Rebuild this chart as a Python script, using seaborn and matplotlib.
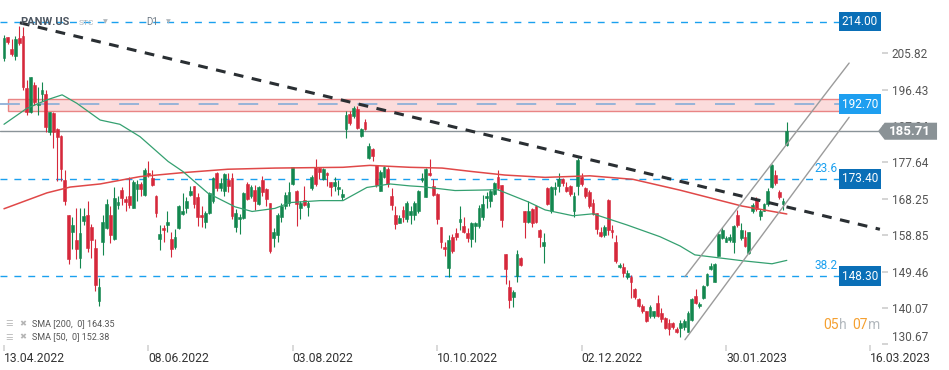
import matplotlib
matplotlib.use("Agg")
import pandas as pd
import matplotlib.pyplot as plt
import seaborn as sns
from matplotlib.patches import Rectangle, Polygon

sns.set_theme(style="white")
plt.rcParams['font.family'] = ['Roboto', 'DejaVu Sans']

# daily OHLC (PANW.US, D1)
opens = [204.7, 209.9, 207.0, 205.0, 209.7, 210.3, 196.8, 190.6, 197.7, 192.5,
         195.3, 195.3, 185.6, 190.4, 186.3, 184.5, 173.1, 164.1, 159.6, 157.7,
         153.1, 162.6, 164.0, 160.9, 155.5, 141.9, 157.2, 160.8, 164.0, 158.0,
         166.7, 170.6, 168.2, 169.1, 166.0, 170.7, 172.1, 169.3, 175.0, 173.6,
         169.0, 157.8, 160.7, 161.6, 157.8, 155.8, 160.7, 164.4, 165.8, 169.3,
         171.6, 168.7, 164.1, 162.4, 164.7, 167.6, 175.0, 171.0, 170.4, 173.0,
         173.6, 160.9, 163.0, 163.3, 172.1, 169.0, 170.5, 167.0, 173.1, 170.7,
         167.1, 158.1, 158.9, 163.7, 166.3, 167.1, 172.1, 170.3, 165.8, 168.0,
         166.1, 171.0, 176.6, 176.2, 173.3, 175.0, 172.5, 171.6, 170.7, 168.7,
         186.2, 190.2, 189.7, 191.4, 184.5, 188.2, 178.7, 181.1, 177.0, 170.4,
         173.8, 175.9, 169.0, 164.1, 162.0, 165.4, 163.0, 164.1, 164.1, 165.0,
         173.0, 168.8, 175.0, 171.6, 169.5, 160.9, 155.8, 150.4, 158.4, 159.4,
         162.4, 161.3, 159.4, 157.8, 161.3, 161.3, 163.7, 168.4, 167.6, 169.5,
         173.8, 171.9, 154.0, 145.4, 143.0, 148.4, 152.9, 165.0, 162.4, 165.6,
         166.4, 160.1, 156.1, 171.0, 165.0, 170.7, 171.6, 173.3, 171.3, 171.6,
         165.0, 171.6, 173.8, 171.0, 170.1, 167.3, 164.7, 159.8, 158.9, 168.0,
         160.2, 157.2, 150.6, 150.6, 148.2, 148.2, 144.9, 142.3, 140.6, 139.2,
         138.0, 138.1, 141.5, 138.9, 137.5, 136.2, 136.3, 134.6, 134.9, 135.1,
         134.0, 137.0, 143.2, 140.5, 142.6, 146.0, 150.1, 146.9, 153.5, 158.1,
         157.2, 157.7, 157.0, 164.1, 158.1, 158.5, 154.2, 165.0, 168.2, 163.9,
         165.2, 166.9, 171.3, 174.4, 170.1, 167.0, 182.2]
highs = [210.6, 210.1, 209.5, 210.4, 212.9, 212.6, 199.0, 199.8, 198.4, 197.0,
         198.4, 196.4, 190.6, 190.6, 186.5, 184.8, 175.7, 164.1, 163.7, 166.0,
         166.0, 166.0, 167.7, 161.7, 157.9, 147.8, 164.0, 168.3, 166.3, 171.2,
         169.1, 171.4, 169.1, 174.0, 173.1, 173.1, 172.7, 176.2, 178.1, 175.7,
         169.3, 161.5, 161.5, 165.0, 159.6, 160.4, 166.7, 169.7, 168.8, 171.6,
         171.6, 169.7, 166.3, 165.0, 170.1, 174.0, 175.3, 173.6, 174.9, 174.9,
         175.0, 165.6, 164.4, 170.1, 172.5, 171.9, 171.9, 171.6, 174.2, 171.0,
         167.3, 160.7, 164.5, 167.1, 169.9, 172.5, 176.6, 170.5, 167.6, 171.6,
         167.8, 174.4, 178.5, 176.4, 176.2, 175.3, 172.7, 174.0, 173.0, 170.7,
         190.8, 190.8, 192.2, 192.2, 186.5, 188.8, 182.6, 181.3, 177.0, 175.6,
         176.8, 176.4, 171.0, 166.4, 164.1, 166.3, 167.6, 166.4, 167.6, 170.5,
         174.9, 176.2, 178.5, 173.3, 169.7, 161.1, 157.2, 158.9, 159.2, 160.7,
         166.4, 163.5, 160.7, 162.4, 162.4, 166.7, 169.3, 170.1, 170.7, 172.7,
         175.7, 171.9, 154.0, 147.2, 144.7, 155.1, 153.2, 165.2, 167.6, 165.8,
         166.7, 160.4, 159.4, 171.4, 171.6, 172.7, 175.0, 173.6, 172.5, 171.9,
         170.1, 178.7, 175.0, 171.4, 170.5, 168.2, 164.7, 160.9, 161.5, 168.2,
         161.5, 159.0, 151.6, 151.8, 149.8, 148.6, 145.2, 142.6, 141.1, 139.4,
         140.9, 139.4, 143.5, 140.0, 137.7, 137.2, 136.6, 135.3, 137.0, 137.2,
         139.2, 142.6, 144.9, 141.7, 146.0, 149.2, 151.8, 151.8, 159.6, 160.9,
         158.7, 159.2, 161.5, 165.4, 162.1, 160.2, 159.8, 167.1, 168.7, 165.6,
         167.3, 171.0, 177.3, 175.7, 170.5, 168.4, 188.2]
lows = [203.9, 208.2, 205.2, 204.1, 208.0, 196.4, 189.8, 190.3, 192.5, 189.8,
        193.4, 185.4, 184.8, 181.5, 172.9, 172.9, 166.7, 151.4, 155.3, 152.8,
        150.3, 161.5, 154.6, 153.1, 144.5, 140.7, 153.8, 160.5, 156.8, 157.6,
        165.6, 166.7, 165.0, 166.0, 166.0, 167.6, 168.9, 169.0, 173.8, 171.6,
        163.5, 155.1, 157.0, 159.6, 153.2, 155.3, 160.4, 164.1, 164.5, 169.0,
        165.8, 161.3, 161.1, 160.7, 164.4, 167.1, 170.4, 170.4, 169.0, 170.1,
        163.0, 159.8, 159.2, 163.0, 168.0, 168.4, 165.4, 166.7, 169.0, 166.4,
        154.2, 155.8, 157.2, 162.4, 165.6, 166.4, 171.9, 161.3, 163.0, 166.4,
        163.9, 170.5, 171.6, 173.3, 173.1, 171.6, 168.9, 170.4, 169.3, 168.0,
        183.9, 187.3, 189.1, 186.2, 184.3, 185.9, 178.5, 177.9, 171.4, 170.4,
        173.6, 171.4, 165.4, 160.4, 162.0, 162.4, 162.4, 161.8, 162.8, 164.7,
        172.5, 168.7, 174.2, 169.0, 161.8, 155.5, 153.4, 148.0, 154.4, 157.7,
        160.1, 159.4, 157.0, 155.9, 157.0, 160.7, 162.8, 165.8, 166.1, 169.3,
        170.5, 161.1, 146.3, 140.0, 140.3, 146.9, 151.0, 158.1, 162.0, 161.1,
        162.0, 155.9, 151.6, 166.7, 164.7, 169.3, 169.9, 171.6, 169.9, 169.0,
        163.7, 169.3, 171.6, 168.4, 165.8, 164.1, 159.2, 158.4, 158.4, 159.0,
        158.1, 151.8, 150.4, 148.2, 147.5, 142.6, 142.4, 140.3, 138.7, 136.6,
        137.5, 137.5, 137.7, 136.6, 134.6, 133.1, 134.6, 133.6, 132.7, 134.4,
        133.8, 136.8, 141.1, 140.0, 142.4, 145.8, 149.8, 146.7, 153.5, 157.8,
        157.0, 157.2, 154.2, 161.1, 157.7, 155.8, 154.0, 164.7, 165.2, 162.7,
        165.0, 166.4, 171.0, 171.9, 168.2, 165.4, 181.9]
closes = [209.7, 208.7, 205.6, 209.5, 208.4, 197.0, 190.6, 199.8, 193.2, 192.8,
          196.4, 186.7, 190.6, 185.4, 184.1, 176.0, 167.7, 152.8, 161.5, 155.3,
          159.4, 163.9, 155.7, 157.6, 146.1, 145.4, 162.4, 166.9, 158.8, 168.4,
          167.4, 168.6, 167.4, 166.7, 172.7, 172.0, 170.7, 175.7, 174.4, 171.9,
          164.7, 159.2, 160.1, 162.3, 155.3, 158.4, 166.4, 165.0, 167.8, 170.3,
          166.9, 163.7, 163.5, 164.5, 169.7, 173.6, 171.0, 172.3, 174.6, 171.6,
          163.9, 164.7, 163.6, 169.7, 168.2, 171.4, 167.8, 171.4, 170.1, 168.2,
          154.7, 159.6, 164.1, 166.3, 169.3, 170.1, 176.4, 167.0, 167.3, 166.7,
          167.1, 174.0, 172.1, 175.3, 175.9, 174.4, 171.3, 172.7, 171.4, 169.5,
          189.9, 187.9, 191.6, 186.5, 186.2, 186.2, 181.9, 179.2, 171.9, 175.3,
          176.4, 172.1, 166.7, 161.8, 163.3, 163.7, 167.3, 165.0, 167.3, 170.3,
          173.6, 175.9, 174.4, 169.3, 163.0, 157.2, 155.3, 157.7, 154.9, 158.4,
          163.0, 159.6, 158.1, 162.1, 161.9, 165.8, 166.9, 169.0, 170.4, 172.3,
          171.0, 162.7, 150.1, 142.2, 144.3, 154.0, 151.2, 162.4, 165.2, 162.1,
          162.4, 158.4, 157.0, 167.0, 171.4, 171.4, 173.3, 172.3, 170.4, 169.5,
          169.0, 178.3, 172.1, 169.0, 166.3, 164.4, 160.4, 158.7, 160.9, 160.1,
          159.6, 152.3, 151.2, 149.2, 149.2, 146.7, 142.9, 140.6, 139.2, 136.8,
          140.3, 139.2, 137.9, 137.2, 134.9, 134.6, 135.1, 134.0, 136.3, 136.8,
          138.9, 142.4, 141.5, 141.1, 145.8, 148.9, 151.0, 151.5, 159.2, 160.1,
          158.1, 158.5, 161.3, 161.5, 160.1, 156.1, 159.6, 166.7, 165.6, 165.0,
          167.0, 170.4, 177.0, 172.3, 168.8, 167.8, 185.71]

# moving averages, points (bar index, value)
sma200_idx = [0, 11.3, 17.4, 25.3, 35.8, 46.8, 58.9, 71.3, 89.2, 96.3, 106.8,
              115.3, 123.2, 131.8, 142.4, 154.2, 165.5, 177.9, 194.2, 206]
sma200_val = [165.7, 169.8, 171.3, 172.1, 174.0, 175.0, 175.9, 176.2, 176.4, 176.9,
              176.4, 176.2, 175.3, 174.4, 173.8, 174.2, 173.3, 170.5, 166.4, 164.35]
sma50_idx = [0, 6, 11.3, 15.3, 19.2, 25.3, 30.5, 35.8, 43.2, 47.1, 53.7, 60.8,
             65.3, 71.3, 75.3, 83.2, 89.2, 95.5, 101.6, 106.8, 110, 118.7, 130,
             137.9, 142.4, 149.7, 155, 164, 172.6, 177.9, 181.8, 194.2, 202.1, 206]
sma50_val = [187.5, 191.6, 193.8, 195.1, 192.9, 188.6, 187.5, 184.3, 177.9, 175.3,
             169.7, 166.2, 165.0, 165.8, 167.3, 167.8, 167.8, 171.2, 172.1, 171.6,
             171.4, 170.4, 170.6, 167.5, 165.4, 163.9, 164.4, 161.5, 158.5, 156.1,
             153.8, 152.3, 151.5, 152.38]

# drawn objects
trend_idx = [4.2, 230.5]
trend_val = [213.7, 160.4]
chan_idx = [179.2, 222.4]
chan_upper = [148.2, 203.3]
chan_lower = [131.9, 189.3]

fib_levels = [214.00, 173.40, 148.30]
fib_tags = ["", "23.6", "38.2"]
zone_low, zone_high, zone_mid = 190.8, 193.95, 192.70
last_price = 185.71

ytick_vals = [205.82, 196.43, 187.04, 177.64, 168.25, 158.85, 149.46, 140.07, 130.67]
date_idx = [0, 38, 76, 114, 152, 190, 228]
date_labels = ["13.04.2022", "08.06.2022", "03.08.2022", "10.10.2022",
               "02.12.2022", "30.01.2023", "16.03.2023"]

df = pd.DataFrame({"open": opens, "high": highs, "low": lows, "close": closes})
df["idx"] = range(len(df))
df["up"] = df["close"] >= df["open"]

GREEN = "#13874f"
RED = "#d6283b"
BLUE = "#1aa0ef"
DARKBLUE = "#0a6fb7"

fig = plt.figure(figsize=(9.49, 3.70), dpi=100)
ax = fig.add_axes([0, 25 / 370, 882 / 949, 345 / 370])
ax.set_xlim(-1.05, 231.05)
ax.set_ylim(130.54, 219.575)
for s in ax.spines.values():
    s.set_visible(False)

# resistance zone
ax.add_patch(Rectangle((1.05, zone_low), 219.3, zone_high - zone_low,
                       facecolor="#fbdcdc", edgecolor="#e98585", lw=1, zorder=1))
ax.axhline(zone_mid, xmin=0, xmax=0.951, color="#8fb0d8", lw=1.3,
           dashes=(11, 11), zorder=1.5)

# fibo levels
for lv in fib_levels:
    ax.axhline(lv, xmin=0, xmax=0.951, color=BLUE, lw=1.0, dashes=(5, 5), zorder=1.5)
ax.axhline(last_price, xmin=0, xmax=0.996, color="#8a9398", lw=1.0, zorder=1.5)

# candles
for up, grp in df.groupby("up"):
    col = GREEN if up else RED
    ax.vlines(grp["idx"], grp["low"], grp["high"], color=col, lw=0.8, zorder=3)
    body = (grp["close"] - grp["open"]).abs().clip(lower=0.25)
    bottom = grp[["open", "close"]].min(axis=1)
    ax.bar(grp["idx"], body, bottom=bottom, width=0.75, color=col,
           edgecolor=col, lw=0.4, zorder=3.5)

# moving averages
sns.lineplot(x=sma200_idx, y=sma200_val, ax=ax, color="#e04848", lw=1.1, zorder=4)
sns.lineplot(x=sma50_idx, y=sma50_val, ax=ax, color="#34a070", lw=0.9, zorder=4)

# trend line + channel
ax.plot(trend_idx, trend_val, color="#2a2f33", lw=2.2, dashes=(3.2, 2.8), zorder=5)
ax.plot(chan_idx, chan_upper, color="#9b9b9b", lw=1.0, zorder=5)
ax.plot(chan_idx, chan_lower, color="#9b9b9b", lw=1.0, zorder=5)

# y axis on the right
ax.yaxis.tick_right()
ax.set_yticks(ytick_vals)
ax.set_yticklabels([f"{v:.2f}" for v in ytick_vals], color="#555555", fontsize=8.5)
ax.tick_params(axis="y", length=4, color="#cfcfcf", pad=3, right=True, left=False)
ax.get_yticklabels()[-1].set_va("bottom")

ax.set_xticks(date_idx)
ax.set_xticklabels(date_labels, ha="left", color="#333333", fontsize=8.7)
ax.tick_params(axis="x", length=4, color="#d5d5d5", pad=1, bottom=True)

# level labels on the right
ytr = ax.get_yaxis_transform()
for lv, tag in zip(fib_levels, fib_tags):
    ax.text(0.975, lv, f"{lv:.2f}", transform=ytr, ha="center", va="center",
            color="white", fontsize=8.5, zorder=8,
            bbox=dict(boxstyle="square,pad=0.28", fc=DARKBLUE, ec="none"))
    if tag:
        ax.text(0.937, lv + 1.0, tag, transform=ytr, ha="center", va="bottom",
                color=BLUE, fontsize=8.5, zorder=8)
ax.text(0.975, zone_mid, f"{zone_mid:.2f}", transform=ytr, ha="center", va="center",
        color="white", fontsize=8.5, zorder=8,
        bbox=dict(boxstyle="square,pad=0.28", fc="#1e9ff0", ec="none"))

# last price tag with arrow
h = 2.2
ax.add_patch(Polygon([(0.9955, last_price), (1.003, last_price + h), (1.0624, last_price + h),
                      (1.0624, last_price - h), (1.003, last_price - h)],
                     closed=True, transform=ytr, fc="#8a9296", ec="none",
                     clip_on=False, zorder=9))
ax.text(1.032, last_price, f"{last_price:.2f}", transform=ytr, ha="center", va="center",
        color="white", fontsize=9.5, fontweight="bold", zorder=10, clip_on=False)

# header
ax.text(20 / 882, 0.935, "PANW.US", transform=ax.transAxes, fontsize=8,
        fontweight="bold", color="#4d5661", va="center", zorder=9)
ax.text(79 / 882, 0.933, "STC", transform=ax.transAxes, fontsize=6,
        color="#a9b1b8", va="center", zorder=9)
ax.text(103 / 882, 0.936, "▼", transform=ax.transAxes, fontsize=4.5,
        color="#b0b6bb", va="center", family="DejaVu Sans", zorder=9)
ax.text(146 / 882, 0.935, "D1", transform=ax.transAxes, fontsize=7,
        color="#6f7a85", va="center", zorder=9)
ax.text(166 / 882, 0.936, "▼", transform=ax.transAxes, fontsize=4.5,
        color="#b0b6bb", va="center", family="DejaVu Sans", zorder=9)

# indicator legend
for yy, txt in [(1 - 324 / 345, "SMA [200,  0] 164.35"), (1 - 337 / 345, "SMA [50,  0] 152.38")]:
    ax.text(5 / 882, yy, "☰", transform=ax.transAxes, fontsize=6, color="#b5b5b5",
            va="center", family="DejaVu Sans")
    ax.text(19 / 882, yy, "✖", transform=ax.transAxes, fontsize=6, color="#b5b5b5",
            va="center", family="DejaVu Sans")
    ax.text(32 / 882, yy, txt, transform=ax.transAxes, fontsize=6.5, color="#555555",
            va="center")

# session timer
ty = 1 - 325 / 345
for xx, txt, col in [(823, "05", "#f5a030"), (839, "h", "#b3b9be"),
                     (852, "07", "#f5a030"), (868, "m", "#b3b9be")]:
    ax.text(xx / 882, ty, txt, transform=ax.transAxes, fontsize=10, color=col,
            va="center", ha="left")

plt.savefig("out.png", dpi=100)
